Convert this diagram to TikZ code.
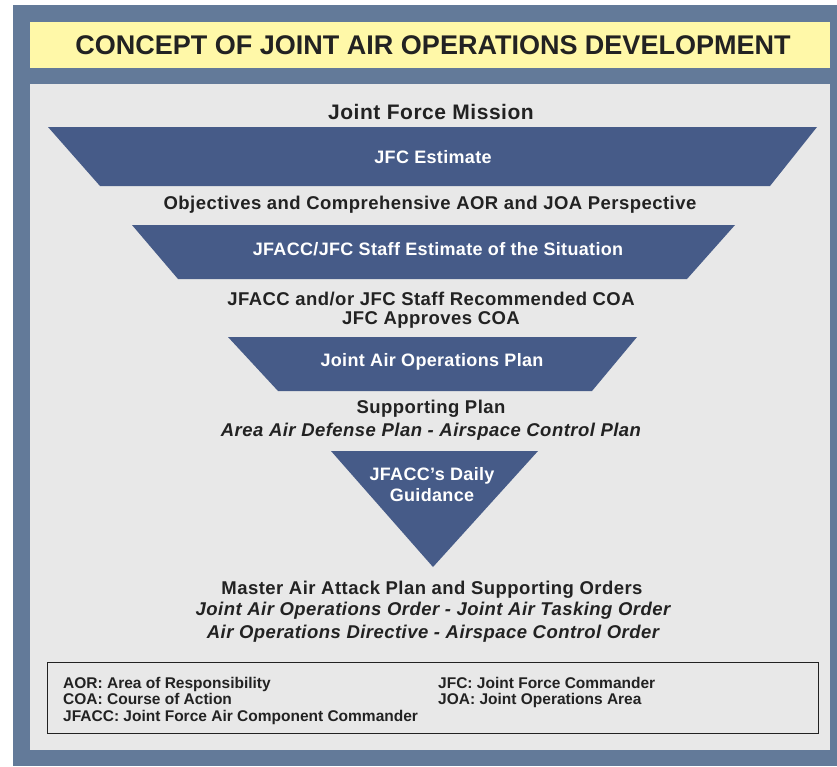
\documentclass[tikz,border=0pt]{standalone}
\usepackage{fontspec}
\setmainfont{Liberation Sans}
\newfontfamily\bodyfont{Liberation Sans}[LetterSpace=2.5]
\newfontfamily\whitefont{Liberation Sans}[LetterSpace=1.8]
\definecolor{framecol}{HTML}{637A99}
\definecolor{titlebg}{HTML}{FFF8A8}
\definecolor{panelbg}{HTML}{E8E8E8}
\definecolor{tzfill}{HTML}{465B88}
\definecolor{txtcol}{HTML}{222222}
\tikzset{
  tzshape/.style={fill=tzfill},
  whitelbl/.style={text=white, font=\whitefont\fontsize{18}{21}\selectfont\bfseries, align=center, inner sep=0pt},
  darklbl/.style={text=txtcol, font=\bodyfont\fontsize{18.5}{22.5}\selectfont\bfseries, inner sep=0pt},
  itallbl/.style={text=txtcol, font=\bodyfont\fontsize{18.5}{22.5}\selectfont\bfseries\itshape, inner sep=0pt},
  legendlbl/.style={text=txtcol, font=\fontsize{15.5}{17}\selectfont\bfseries, anchor=base west, inner sep=0pt},
}
\begin{document}
\begin{tikzpicture}[x=1pt,y=-1pt]
\useasboundingbox (0,0) rectangle (837,766);
\fill[white] (0,0) rectangle (837,766);
\fill[framecol] (13,5) rectangle (837,766);
\fill[titlebg] (30,22) rectangle (830,68);
\node[text=txtcol, font=\fontsize{27}{30}\selectfont\bfseries, inner sep=0pt] (title) at (433,45) {CONCEPT OF JOINT AIR OPERATIONS DEVELOPMENT};
\fill[panelbg] (30,84) rectangle (830,750);

\node[darklbl, font=\bodyfont\fontsize{21}{24}\selectfont\bfseries] (mission) at (431,111.5) {Joint Force Mission};

\fill[tzshape] (48,127) -- (817,127) -- (770,186) -- (100,186) -- cycle;
\node[whitelbl] (est1) at (433,157.5) {JFC Estimate};

\node[darklbl] (obj) at (430,205) {Objectives and Comprehensive AOR and JOA Perspective};

\fill[tzshape] (132,225) -- (735,225) -- (687,279) -- (178,279) -- cycle;
\node[whitelbl] (est2) at (438,249) {JFACC/JFC Staff Estimate of the Situation};

\node[darklbl] (coa1) at (431,298.5) {JFACC and/or JFC Staff Recommended COA};
\node[darklbl] (coa2) at (431,320) {JFC Approves COA};

\fill[tzshape] (228,337) -- (637,337) -- (592,391) -- (278,391) -- cycle;
\node[whitelbl] (jaop) at (432,362) {Joint Air Operations Plan};

\node[darklbl] (sup1) at (431,409) {Supporting Plan};
\node[itallbl] (sup2) at (431,431.5) {Area Air Defense Plan - Airspace Control Plan};

\fill[tzshape] (331,451) -- (538,451) -- (433,567) -- cycle;
\node[whitelbl] (daily) at (432,485) {JFACC’s Daily\\Guidance};

\node[darklbl] (maap) at (432,589.5) {Master Air Attack Plan and Supporting Orders};
\node[itallbl] (ord1) at (433,610.5) {Joint Air Operations Order - Joint Air Tasking Order};
\node[itallbl] (ord2) at (433,633.5) {Air Operations Directive - Airspace Control Order};

\draw[txtcol, line width=1pt] (47,662) rectangle (818,733);
\node[legendlbl] (l1) at (63,688) {AOR: Area of Responsibility};
\node[legendlbl] (l2) at (63,704.5) {COA: Course of Action};
\node[legendlbl] (l3) at (63,721) {JFACC: Joint Force Air Component Commander};
\node[legendlbl] (l4) at (438,688) {JFC: Joint Force Commander};
\node[legendlbl] (l5) at (438,704.5) {JOA: Joint Operations Area};
\end{tikzpicture}
\end{document}
